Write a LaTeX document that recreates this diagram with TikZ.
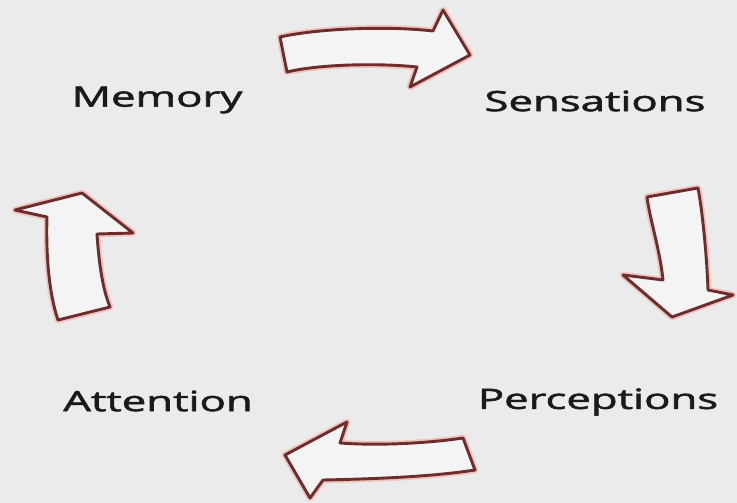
\documentclass[tikz,border=0pt]{standalone}
\usepackage{fontspec}
\newfontfamily\labelfont{Open Sans}[FakeBold=1.6]
\definecolor{bg}{HTML}{EBEBEB}
\definecolor{rim}{HTML}{6E2C2C}
\definecolor{glow}{HTML}{F0B4AC}
\definecolor{inside}{HTML}{F4F4F4}
\definecolor{ink}{HTML}{1A1A1A}
\begin{document}
\begin{tikzpicture}[x=1pt,y=-1pt,
  word/.style={font=\labelfont\fontsize{28}{30}\selectfont, text=ink, inner sep=0pt,
               xscale=1.56, transform shape},
  glowline/.style={draw=glow, line width=6.5pt, line join=round, opacity=0.7},
  bentarrow/.style={draw=rim, fill=inside, line width=2.9pt, line join=round}]
  % canvas
  \fill[bg] (0,0) rectangle (737,503);
  \useasboundingbox (0,0) rectangle (737,503);

  % labels of the cycle
  \node[word] (memory) at (157,100) {Memory};
  \node[word] (sens)   at (595,101) {Sensations};
  \node[word] (attn)   at (158,401) {Attention};
  \node[word] (perc)   at (598,402) {Perceptions};

  % block arrow shapes
  \def\toparrow{(280,37) .. controls (320,28) and (390,26) .. (433,31)
    -- (443,10) -- (470,55) -- (410,87) -- (417,67)
    .. controls (380,63) and (320,64) .. (287,72) -- cycle}
  \def\rightarrow{(647,197) -- (698,188)
    .. controls (703,215) and (707,260) .. (708,290)
    -- (733,295) -- (672,317) -- (623,275) -- (663,280)
    .. controls (660,250) and (650,220) .. cycle}
  \def\leftarrow{(82,193) -- (133,233) -- (97,234)
    .. controls (99,265) and (103,290) .. (110,307)
    -- (58,320) .. controls (48,290) and (46,250) .. (47,217)
    -- (15,210) -- cycle}
  \def\bottomarrow{(285,455) -- (347,422) -- (340,443)
    .. controls (380,446) and (430,443) .. (463,438)
    -- (475,470) .. controls (430,477) and (370,479) .. (323,480)
    -- (310,498) -- cycle}

  \foreach \shape in {\toparrow,\rightarrow,\leftarrow,\bottomarrow}{
    \path[glowline] \shape;
    \path[bentarrow] \shape;
  }
\end{tikzpicture}
\end{document}
